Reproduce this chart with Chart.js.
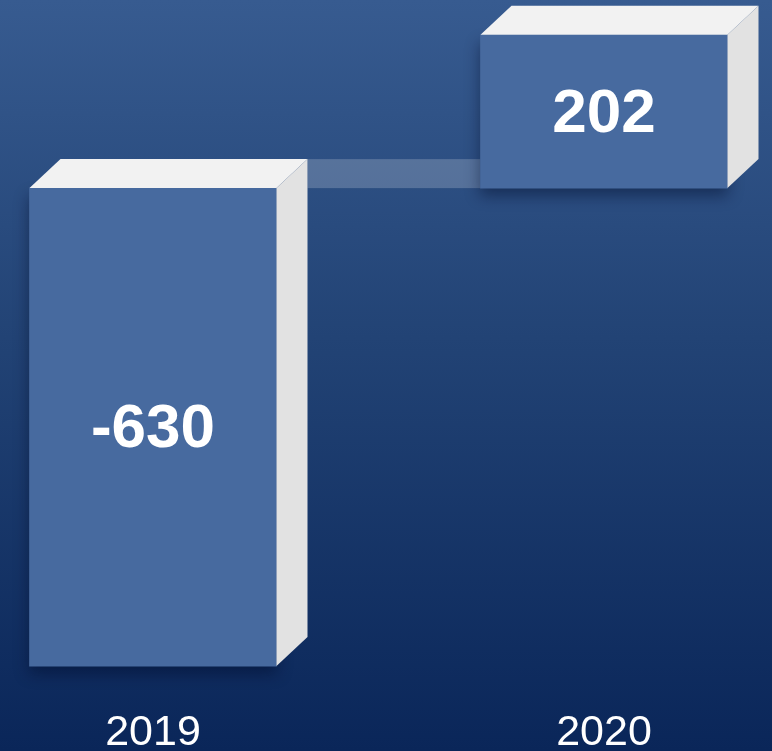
<!DOCTYPE html>
<html>
<head>
<meta charset="utf-8">
<script src="https://cdn.jsdelivr.net/npm/chart.js@4/dist/chart.umd.min.js"></script>
<style>
  html, body { margin: 0; padding: 0; }
  body {
    width: 772px; height: 751px; overflow: hidden;
    background: linear-gradient(to bottom, #375b90 0%, #224375 45%, #0a2659 100%);
  }
  #wrap { position: relative; width: 772px; height: 751px; }
</style>
</head>
<body>
<div id="wrap"><canvas id="chart"></canvas></div>
<script>
const years = ['2019', '2020'];
const netValues = [-630, 202];

const DEPTH_X = 31;
const DEPTH_Y = 29;

// connector band + 3D top/side faces drawn from the bar elements
const boxPlugin = {
    id: 'box3d',
    beforeDatasetsDraw(chart) {
        const ctx = chart.ctx;
        const bars = chart.getDatasetMeta(0).data;
        const zero = chart.scales.y.getPixelForValue(0);
        for (let i = 0; i < bars.length - 1; i++) {
            const a = bars[i].getProps(['x', 'width']);
            const b = bars[i + 1].getProps(['x', 'width']);
            const x1 = a.x + a.width / 2 + DEPTH_X;
            const x2 = b.x - b.width / 2;
            ctx.save();
            ctx.fillStyle = 'rgba(255,255,255,0.2)';
            ctx.fillRect(x1, zero - DEPTH_Y, x2 - x1, DEPTH_Y);
            ctx.restore();
        }
    },
    beforeDatasetDraw(chart) {
        const ctx = chart.ctx;
        ctx.save();
        ctx.shadowColor = 'rgba(0,10,40,0.45)';
        ctx.shadowBlur = 14;
        ctx.shadowOffsetY = 8;
    },
    afterDatasetDraw(chart) {
        chart.ctx.restore();
    },
    afterDatasetsDraw(chart) {
        const ctx = chart.ctx;
        const bars = chart.getDatasetMeta(0).data;
        bars.forEach((bar, i) => {
            const p = bar.getProps(['x', 'y', 'base', 'width']);
            const left = p.x - p.width / 2;
            const right = p.x + p.width / 2;
            const top = Math.min(p.y, p.base);
            const bottom = Math.max(p.y, p.base);
            ctx.save();
            // top face
            ctx.fillStyle = '#f2f2f2';
            ctx.beginPath();
            ctx.moveTo(left, top);
            ctx.lineTo(left + DEPTH_X, top - DEPTH_Y);
            ctx.lineTo(right + DEPTH_X, top - DEPTH_Y);
            ctx.lineTo(right, top);
            ctx.closePath();
            ctx.fill();
            // right side
            ctx.fillStyle = '#e2e2e2';
            ctx.beginPath();
            ctx.moveTo(right, top);
            ctx.lineTo(right + DEPTH_X, top - DEPTH_Y);
            ctx.lineTo(right + DEPTH_X, bottom - DEPTH_Y);
            ctx.lineTo(right, bottom);
            ctx.closePath();
            ctx.fill();
            // value label
            ctx.fillStyle = '#ffffff';
            ctx.font = 'bold 62px "Liberation Sans", Arial, sans-serif';
            ctx.textAlign = 'center';
            ctx.textBaseline = 'middle';
            ctx.fillText(String(netValues[i]), p.x, (top + bottom) / 2 + 3);
            ctx.restore();
        });
    }
};

new Chart(document.getElementById('chart').getContext('2d'), {
    type: 'bar',
    data: {
        labels: years,
        datasets: [{
            data: netValues,
            backgroundColor: '#476a9f',
            borderWidth: 0,
            barThickness: 247,
            clip: false
        }]
    },
    options: {
        responsive: true,
        maintainAspectRatio: false,
        animation: false,
        layout: {
            padding: { left: 153, right: 168, top: 3, bottom: -22 }
        },
        plugins: {
            legend: { display: false },
            tooltip: { enabled: false }
        },
        scales: {
            x: {
                offset: false,
                grid: { display: false, drawTicks: false },
                border: { display: false },
                ticks: {
                    color: '#ffffff',
                    padding: 14,
                    font: { family: '"Liberation Sans", Arial, sans-serif', size: 43 }
                }
            },
            y: {
                display: false,
                min: -666,
                max: 244
            }
        }
    },
    plugins: [boxPlugin]
});
</script>
</body>
</html>
